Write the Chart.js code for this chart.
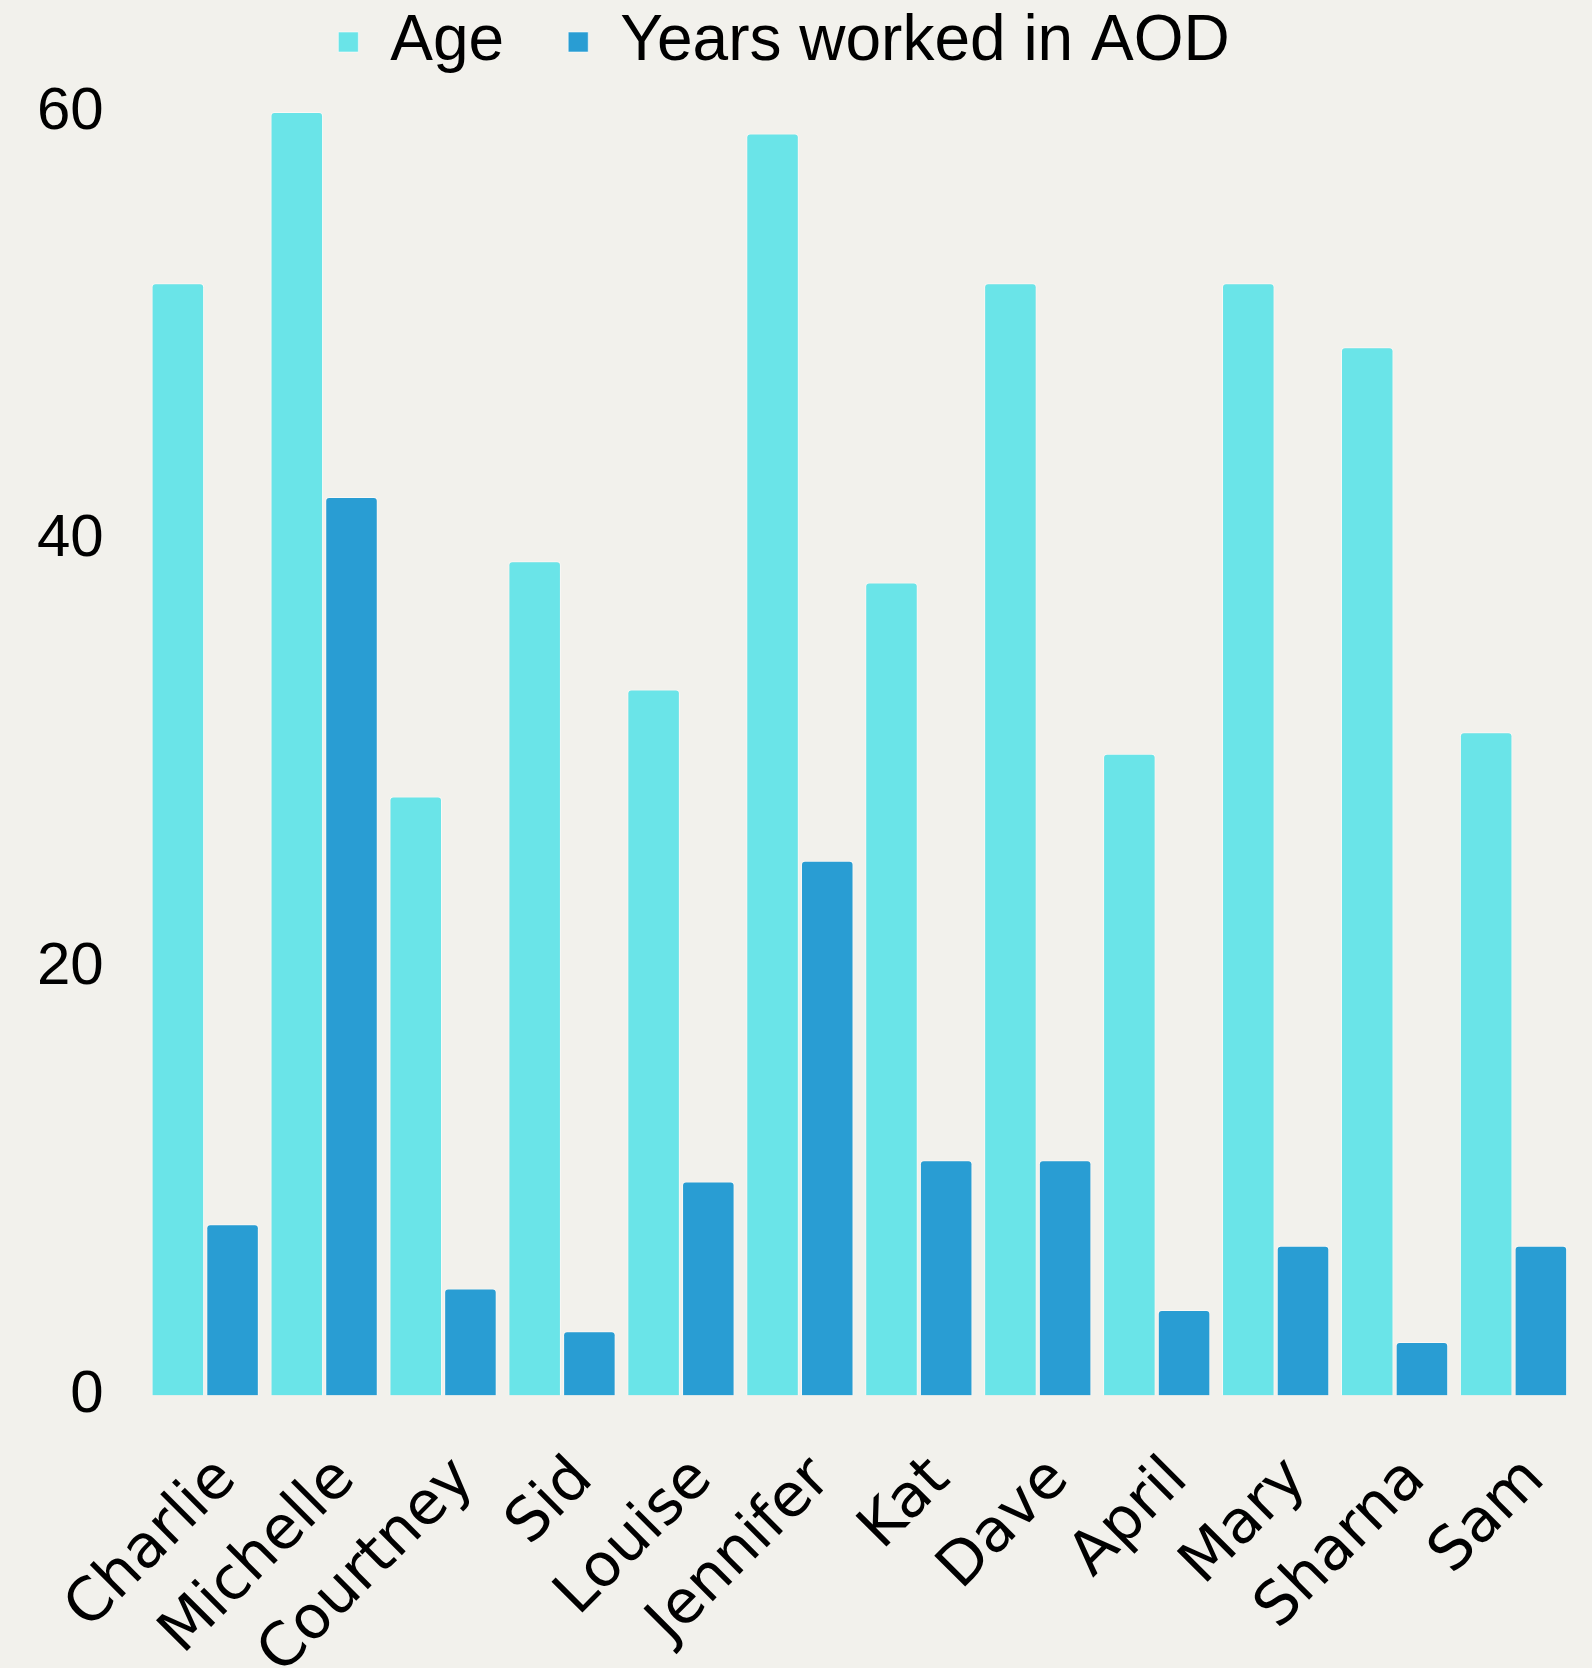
<!DOCTYPE html>
<html>
<head>
<meta charset="utf-8">
<script src="https://cdn.jsdelivr.net/npm/chart.js@4"></script>
<style>
  html, body { margin: 0; padding: 0; background: #f2f1ec; }
  .chart { width: 1592px; height: 1668px; }
</style>
</head>
<body>
<div class="chart"><canvas id="ctx"></canvas></div>
<script>
'use strict';

/* the data */
const names = ['Charlie', 'Michelle', 'Courtney', 'Sid', 'Louise', 'Jennifer',
  'Kat', 'Dave', 'April', 'Mary', 'Sharna', 'Sam'];
const ages = [52, 60, 28, 39, 33, 59, 38, 52, 30, 52, 49, 31];
const yearsInAOD = [8, 42, 5, 3, 10, 25, 11, 11, 4, 7, 2.5, 7];
const yTicks = [0, 20, 40, 60];

const ctx = document.querySelector('#ctx');

// give the legend a fixed height so the plot starts lower
const legendHeight = {
  id: 'legendHeight',
  beforeInit(chart) {
    const fit = chart.legend.fit;
    chart.legend.fit = function () {
      fit.bind(chart.legend)();
      this.height = 166;
    };
  },
};

let myChart = new Chart(ctx, {
  type: 'bar',
  data: {
    labels: names,
    datasets: [
      {
        label: 'Age',
        data: ages,
        backgroundColor: '#6ae4e8',
        borderColor: 'rgba(255,255,255,0.55)',
        borderWidth: 1,
        borderRadius: 4,
      },
      {
        label: 'Years worked in AOD',
        data: yearsInAOD,
        backgroundColor: '#299dd3',
        borderColor: 'rgba(255,255,255,0.55)',
        borderWidth: 1,
        borderRadius: 4,
      },
    ],
  },
  plugins: [legendHeight],
  options: {
    responsive: true,
    maintainAspectRatio: false,
    animation: false,
    devicePixelRatio: 1,
    layout: { padding: { left: -5, right: 19, top: -54, bottom: -71 } },
    datasets: { bar: { categoryPercentage: 0.92, barPercentage: 0.96 } },
    plugins: {
      tooltip: { enabled: false },
      legend: {
        position: 'top',
        labels: {
          color: '#000',
          font: { family: '"Liberation Sans", Arial, sans-serif', size: 64 },
          boxWidth: 20,
          boxHeight: 20,
          padding: 64,
        },
      },
    },
    scales: {
      x: {
        grid: { display: false, drawTicks: false },
        border: { display: false },
        afterFit: (axis) => {
          axis.paddingRight = 0;
        },
        ticks: {
          color: '#000',
          font: { family: '"DejaVu Sans", sans-serif', size: 60 },
          maxRotation: 45,
          minRotation: 45,
          padding: 49,
          labelOffset: 22,
        },
      },
      y: {
        min: 0,
        max: 60,
        grid: { display: false, drawTicks: false },
        border: { display: false },
        afterBuildTicks: (axis) => {
          axis.ticks = yTicks.map((v) => ({ value: v }));
        },
        ticks: {
          color: '#000',
          font: { family: '"Liberation Sans", Arial, sans-serif', size: 60 },
          padding: 42,
        },
      },
    },
  },
});
</script>
</body>
</html>
